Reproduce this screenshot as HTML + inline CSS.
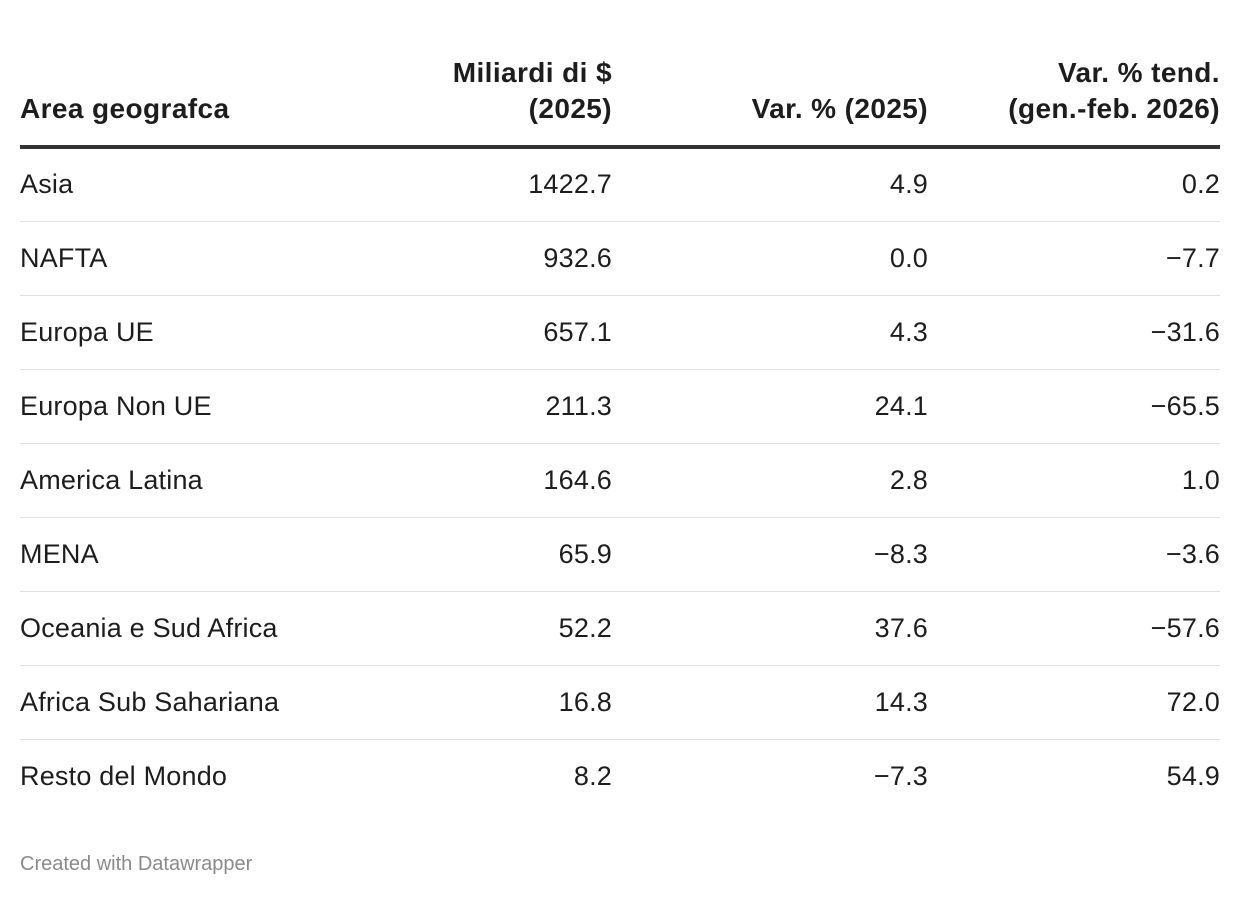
<!DOCTYPE html>
<html><head><meta charset="utf-8"><style>
body{margin:0;width:1240px;height:898px;background:#fff;font-family:"Liberation Sans",sans-serif;color:#1d1d1d;position:relative;overflow:hidden}
.h{position:absolute;font-weight:bold;font-size:28px;line-height:36px;text-align:right;letter-spacing:0.4px}
.hl{position:absolute;left:20px;top:145px;width:1200px;height:4px;background:#333}
.row{position:absolute;left:20px;width:1200px;height:74px;border-bottom:1px solid #e0e0e0;font-size:27px;letter-spacing:0.2px}
.row span{position:absolute;top:50%;transform:translateY(-50%);line-height:30px}
.c0{left:0}.c1{right:608px}.c2{right:292px}.c3{right:0}
.f{position:absolute;left:20px;top:853px;font-size:20px;color:#8a8a8a}
</style></head><body>
<div class="h" style="left:20px;top:91px;text-align:left">Area geografca</div>
<div class="h" style="right:628px;top:55px">Miliardi di $<br>(2025)</div>
<div class="h" style="right:312px;top:91px">Var. % (2025)</div>
<div class="h" style="right:20px;top:55px">Var. % tend.<br>(gen.-feb. 2026)</div>
<div class="hl"></div>
<div class="row" style="top:147px"><span class="c0">Asia</span><span class="c1">1422.7</span><span class="c2">4.9</span><span class="c3">0.2</span></div>
<div class="row" style="top:221px"><span class="c0">NAFTA</span><span class="c1">932.6</span><span class="c2">0.0</span><span class="c3">−7.7</span></div>
<div class="row" style="top:295px"><span class="c0">Europa UE</span><span class="c1">657.1</span><span class="c2">4.3</span><span class="c3">−31.6</span></div>
<div class="row" style="top:369px"><span class="c0">Europa Non UE</span><span class="c1">211.3</span><span class="c2">24.1</span><span class="c3">−65.5</span></div>
<div class="row" style="top:443px"><span class="c0">America Latina</span><span class="c1">164.6</span><span class="c2">2.8</span><span class="c3">1.0</span></div>
<div class="row" style="top:517px"><span class="c0">MENA</span><span class="c1">65.9</span><span class="c2">−8.3</span><span class="c3">−3.6</span></div>
<div class="row" style="top:591px"><span class="c0">Oceania e Sud Africa</span><span class="c1">52.2</span><span class="c2">37.6</span><span class="c3">−57.6</span></div>
<div class="row" style="top:665px"><span class="c0">Africa Sub Sahariana</span><span class="c1">16.8</span><span class="c2">14.3</span><span class="c3">72.0</span></div>
<div class="row" style="top:739px;border-bottom:none"><span class="c0">Resto del Mondo</span><span class="c1">8.2</span><span class="c2">−7.3</span><span class="c3">54.9</span></div>
<div class="f">Created with Datawrapper</div>
</body></html>
